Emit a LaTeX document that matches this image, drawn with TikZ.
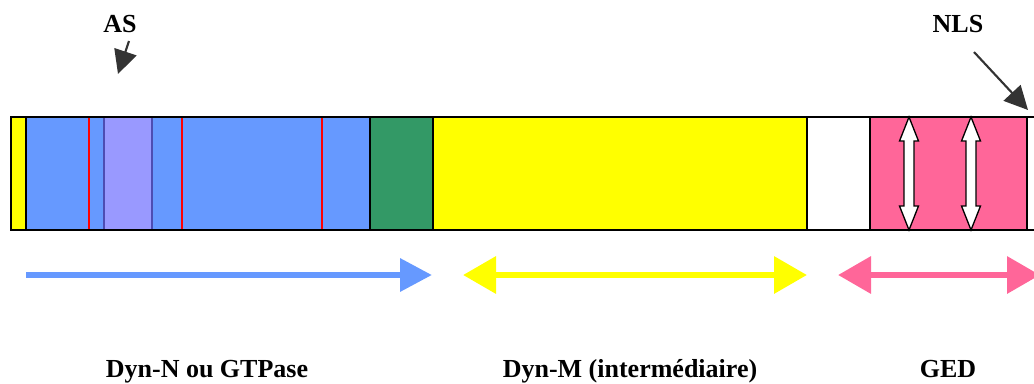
\documentclass[tikz,border=0pt]{standalone}
\usepackage{fontspec}
\setmainfont{Liberation Serif}
\usetikzlibrary{arrows.meta}
\definecolor{gtpblue}{HTML}{6699FF}
\definecolor{aspurple}{HTML}{9999FF}
\definecolor{asedge}{HTML}{4D4DB3}
\definecolor{mgreen}{HTML}{339966}
\definecolor{midyellow}{HTML}{FFFF00}
\definecolor{gedpink}{HTML}{FF6699}
\definecolor{pointer}{HTML}{333333}
\tikzset{
  label/.style={font=\bfseries\fontsize{14.8pt}{17pt}\selectfont,inner sep=0pt,anchor=base},
  pointerarrow/.style={pointer,line width=1.2pt,-{Triangle[length=0.47cm,width=0.46cm]}},
  span/.style={line width=3.7pt},
  hinge/.style={fill=white,draw=black,line width=0.75pt,line join=miter}
}
\begin{document}
\begin{tikzpicture}[x=0.02cm,y=-0.02cm]
\useasboundingbox (0,0) rectangle (1034,383);
\clip (0,0) rectangle (1034,383);
% the bar
\fill[midyellow] (11,117) rectangle (26,230);
\fill[gtpblue] (26,117) rectangle (370,230);
\foreach \xr in {89,182,322} \draw[red,line width=0.7pt] (\xr,117) -- (\xr,230);
\fill[aspurple] (104,117) rectangle (152,230); \draw[asedge,line width=1pt] (104,117) rectangle (152,230);
\fill[mgreen] (370,117) rectangle (433,230);
\fill[midyellow] (433,117) rectangle (807,230);
\fill[gedpink] (870,117) rectangle (1027,230);
\draw[black,line width=1.1pt] (11,117) rectangle (1040,230);
\foreach \xs in {26,370,433,807,870,1027} \draw[black,line width=1.1pt] (\xs,117) -- (\xs,230);
% hinges inside GED
\foreach \xh in {909,971}
  \draw[hinge] (\xh,117) -- (\xh+9.5,141) -- (\xh+5,141) -- (\xh+5,206) -- (\xh+9.5,206) -- (\xh,230)
    -- (\xh-9.5,206) -- (\xh-5,206) -- (\xh-5,141) -- (\xh-9.5,141) -- cycle;
% pointers
\node[label] (as) at (120,32) {AS};
\node[label] (nls) at (958,32) {NLS};
\coordinate (asfrom) at (129,41); \coordinate (astip) at (118,74);
\coordinate (nlsfrom) at (974,52); \coordinate (nlstip) at (1028,110);
\draw[pointerarrow] (asfrom) -- (astip);
\draw[pointerarrow] (nlsfrom) -- (nlstip);
% domain spans
\coordinate (nleft) at (26,275); \coordinate (nright) at (432,275);
\coordinate (mleft) at (463,275); \coordinate (mright) at (807,275);
\coordinate (gleft) at (838,275); \coordinate (gright) at (1040,275);
\draw[span,gtpblue,-{Triangle[length=0.64cm,width=0.64cm]}] (nleft) -- (nright);
\draw[span,midyellow,{Triangle[length=0.66cm,width=0.72cm]}-{Triangle[length=0.66cm,width=0.72cm]}] (mleft) -- (mright);
\draw[span,gedpink,{Triangle[length=0.66cm,width=0.72cm]}-{Triangle[length=0.66cm,width=0.72cm]}] (gleft) -- (gright);
% names
\node[label] (dynn) at (207,377) {Dyn-N ou GTPase};
\node[label] (dynm) at (630,377) {Dyn-M (intermédiaire)};
\node[label] (ged) at (948,377) {GED};
\end{tikzpicture}
\end{document}
